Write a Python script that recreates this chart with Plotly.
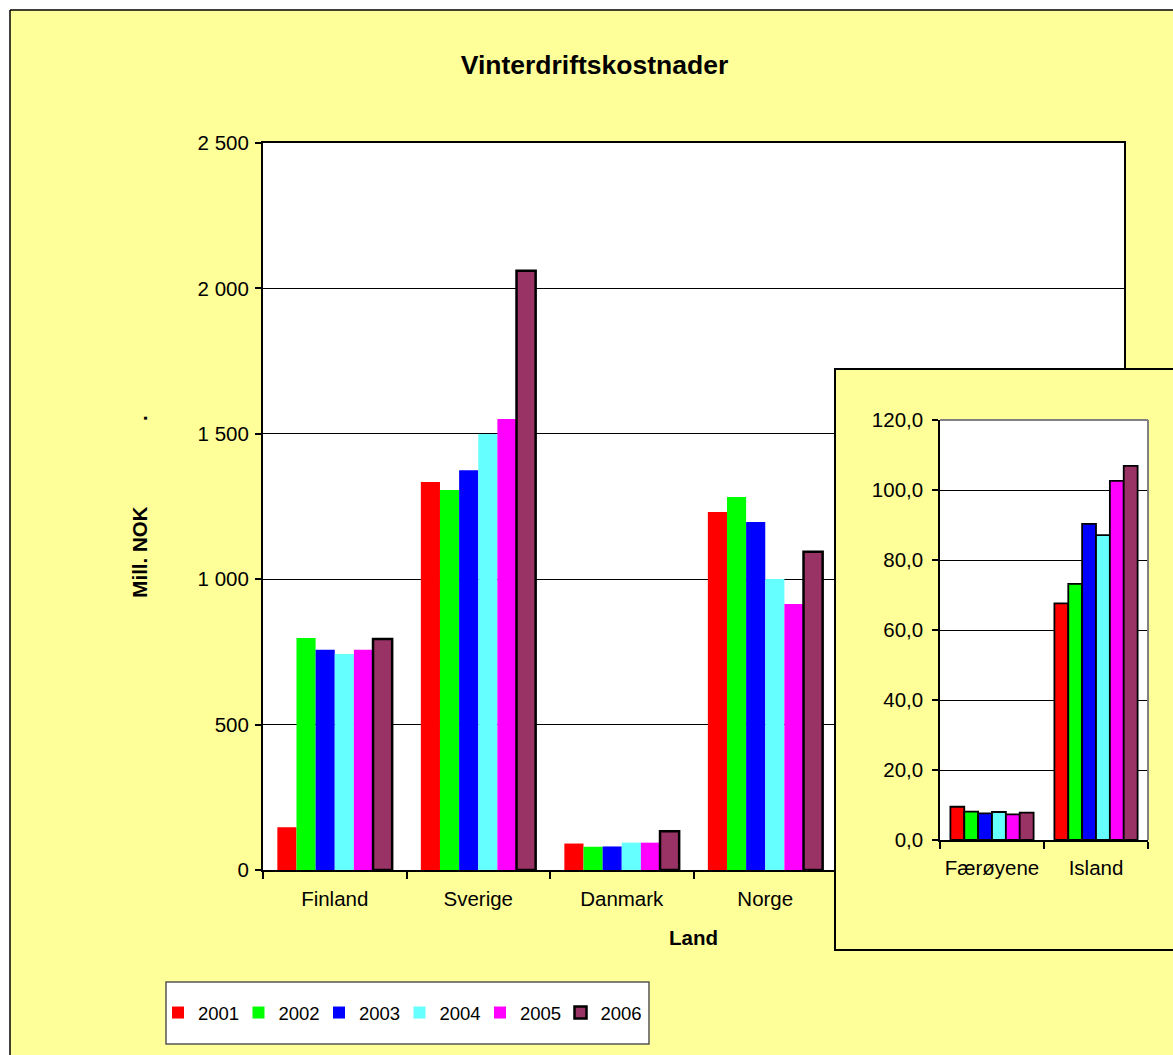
import plotly.graph_objects as go

# Winter operating costs per country (mill. NOK), 2001-2006
countries = ["Finland", "Sverige", "Danmark", "Norge", "Færøyene", "Island"]
years = ["2001", "2002", "2003", "2004", "2005", "2006"]
colors = ["#FF0000", "#00FF00", "#0000FF", "#66FFFF", "#FF00FF", "#993366"]

v2001 = [147, 1334, 91, 1231, 9.5, 67.6]
v2002 = [798, 1307, 80, 1283, 8.1, 73.2]
v2003 = [757, 1375, 81, 1197, 7.6, 90.3]
v2004 = [743, 1499, 94, 1001, 8.0, 87.1]
v2005 = [757, 1551, 94, 915, 7.3, 102.6]
v2006 = [794, 2061, 133, 1094, 7.8, 106.9]
series = [v2001, v2002, v2003, v2004, v2005, v2006]

# Small countries shown enlarged in the inset
inset_countries = ["Færøyene", "Island"]

main_ticks = [0, 500, 1000, 1500, 2000, 2500]
inset_ticks = [0, 20, 40, 60, 80, 100, 120]

W, H = 1173, 1055
FONT = "Arial, Liberation Sans, sans-serif"
YELLOW = "#FFFF99"


def px(x):
    return x / W


def py(y):
    return 1 - y / H


fig = go.Figure()

for yr, col, vals in zip(years, colors, series):
    is_last = yr == "2006"
    fig.add_trace(go.Bar(
        name=yr, x=countries, y=vals, xaxis="x", yaxis="y",
        marker=dict(color=col, line=dict(color="#000000", width=2.5 if is_last else 0)),
        legendgroup=yr, showlegend=True,
    ))

# placeholder trace so the inset frame subplot exists
fig.add_trace(go.Scatter(x=[], y=[], xaxis="x2", yaxis="y2", showlegend=False, hoverinfo="skip"))

for yr, col, vals in zip(years, colors, series):
    inset_vals = [vals[countries.index(c)] for c in inset_countries]
    fig.add_trace(go.Bar(
        name=yr, x=inset_countries, y=inset_vals, xaxis="x3", yaxis="y3",
        marker=dict(color=col, line=dict(color="#000000", width=1.8)),
        legendgroup=yr, showlegend=False,
    ))

tickfont = dict(family=FONT, size=20.5, color="#000000")

fig.update_layout(
    template="none",
    width=W, height=H,
    margin=dict(l=0, r=0, t=0, b=0, pad=0, autoexpand=False),
    paper_bgcolor=YELLOW,
    plot_bgcolor="#FFFFFF",
    separators=", ",
    barmode="group",
    bargap=0.2,
    bargroupgap=0,
    font=dict(family=FONT, color="#000000"),
    title=dict(
        text="Vinterdriftskostnader", x=px(594.5), y=py(65),
        xanchor="center", yanchor="middle", xref="paper", yref="paper",
        font=dict(family=FONT, size=26.5, weight="bold", color="#000000"),
    ),
    xaxis=dict(
        domain=[px(263), px(1124)], anchor="y", automargin=False,
        type="category", categoryorder="array", categoryarray=countries,
        range=[-0.5, 5.5], tickson="boundaries", ticks="outside", ticklen=7,
        tickcolor="#000000", tickwidth=1.5, tickangle=0, ticklabelstandoff=9,
        showline=True, linecolor="#000000", linewidth=2, mirror=True,
        showgrid=False, zeroline=False, tickfont=tickfont,
        title=dict(text="Land", standoff=22,
                   font=dict(family=FONT, size=20.5, weight="bold", color="#000000")),
    ),
    yaxis=dict(
        domain=[py(870), py(143)], anchor="x", automargin=False,
        range=[0, 2500], tickvals=main_ticks, tickformat=",d",
        ticks="outside", ticklen=6, tickcolor="#000000", tickwidth=1.5,
        ticklabelstandoff=2,
        showline=True, linecolor="#000000", linewidth=2, mirror=True,
        showgrid=True, gridcolor="#000000", gridwidth=1, zeroline=False,
        tickfont=tickfont,
        title=dict(text="Mill. NOK" + "\u00a0" * 15 + ".", standoff=44,
                   font=dict(family=FONT, size=20.5, weight="bold", color="#000000")),
    ),
    xaxis2=dict(
        domain=[px(836), 1.0], anchor="y2", range=[0, 1], automargin=False,
        showline=True, linecolor="#000000", linewidth=1.5, mirror=True,
        showgrid=False, zeroline=False, showticklabels=False, ticks="",
        fixedrange=True,
    ),
    yaxis2=dict(
        domain=[py(949), py(370)], anchor="x2", range=[0, 1], automargin=False,
        showline=True, linecolor="#000000", linewidth=1.5, mirror=False,
        showgrid=False, zeroline=False, showticklabels=False, ticks="",
        fixedrange=True,
    ),
    xaxis3=dict(
        domain=[px(940), px(1148)], anchor="y3", automargin=False,
        type="category", categoryorder="array", categoryarray=inset_countries,
        range=[-0.5, 1.5], tickson="boundaries", ticks="outside", ticklen=7,
        tickcolor="#000000", tickwidth=1.5, tickangle=0, ticklabelstandoff=9,
        showline=True, linecolor="#000000", linewidth=1.5,
        showgrid=False, zeroline=False, tickfont=tickfont,
    ),
    yaxis3=dict(
        domain=[py(840), py(420)], anchor="x3", automargin=False,
        range=[0, 120], tickvals=inset_ticks, tickformat=".1f",
        ticks="outside", ticklen=6, tickcolor="#000000", tickwidth=1.5,
        ticklabelstandoff=5,
        showline=True, linecolor="#000000", linewidth=1.5,
        showgrid=True, gridcolor="#000000", gridwidth=1, zeroline=False,
        tickfont=tickfont,
    ),
    legend=dict(
        orientation="h", x=px(158), y=py(1013), xanchor="left", yanchor="middle",
        bgcolor="rgba(0,0,0,0)", borderwidth=0,
        font=dict(family=FONT, size=18.5, color="#000000"),
        entrywidth=35.5, entrywidthmode="pixels",
        traceorder="normal",
    ),
    shapes=[
        # white margin outside the chart frame
        dict(type="rect", xref="paper", yref="paper", x0=0, x1=px(10), y0=0, y1=1,
             fillcolor="#FFFFFF", line=dict(width=0), layer="below"),
        dict(type="rect", xref="paper", yref="paper", x0=0, x1=1, y0=py(10), y1=1,
             fillcolor="#FFFFFF", line=dict(width=0), layer="below"),
        dict(type="line", xref="paper", yref="paper", x0=px(10), x1=px(10), y0=0, y1=py(10),
             line=dict(color="#000000", width=1.5), layer="below"),
        dict(type="line", xref="paper", yref="paper", x0=px(10), x1=1, y0=py(10), y1=py(10),
             line=dict(color="#000000", width=1.5), layer="below"),
        # legend box
        dict(type="rect", xref="paper", yref="paper", x0=px(166), x1=px(649), y0=py(1044), y1=py(982),
             fillcolor="#FFFFFF", line=dict(color="#555555", width=1.5), layer="below"),
        # inset panel background
        dict(type="rect", xref="x2", yref="y2", x0=0, x1=1, y0=0, y1=1,
             fillcolor=YELLOW, line=dict(width=0), layer="below"),
        # grey top and right edges of the inset plot area
        dict(type="line", xref="x3 domain", yref="y3 domain", x0=0, x1=1, y0=1, y1=1,
             line=dict(color="#808080", width=2), layer="above"),
        dict(type="line", xref="x3 domain", yref="y3 domain", x0=1, x1=1, y0=0, y1=1,
             line=dict(color="#808080", width=2), layer="above"),
    ],
)

fig.write_html("out.html")
